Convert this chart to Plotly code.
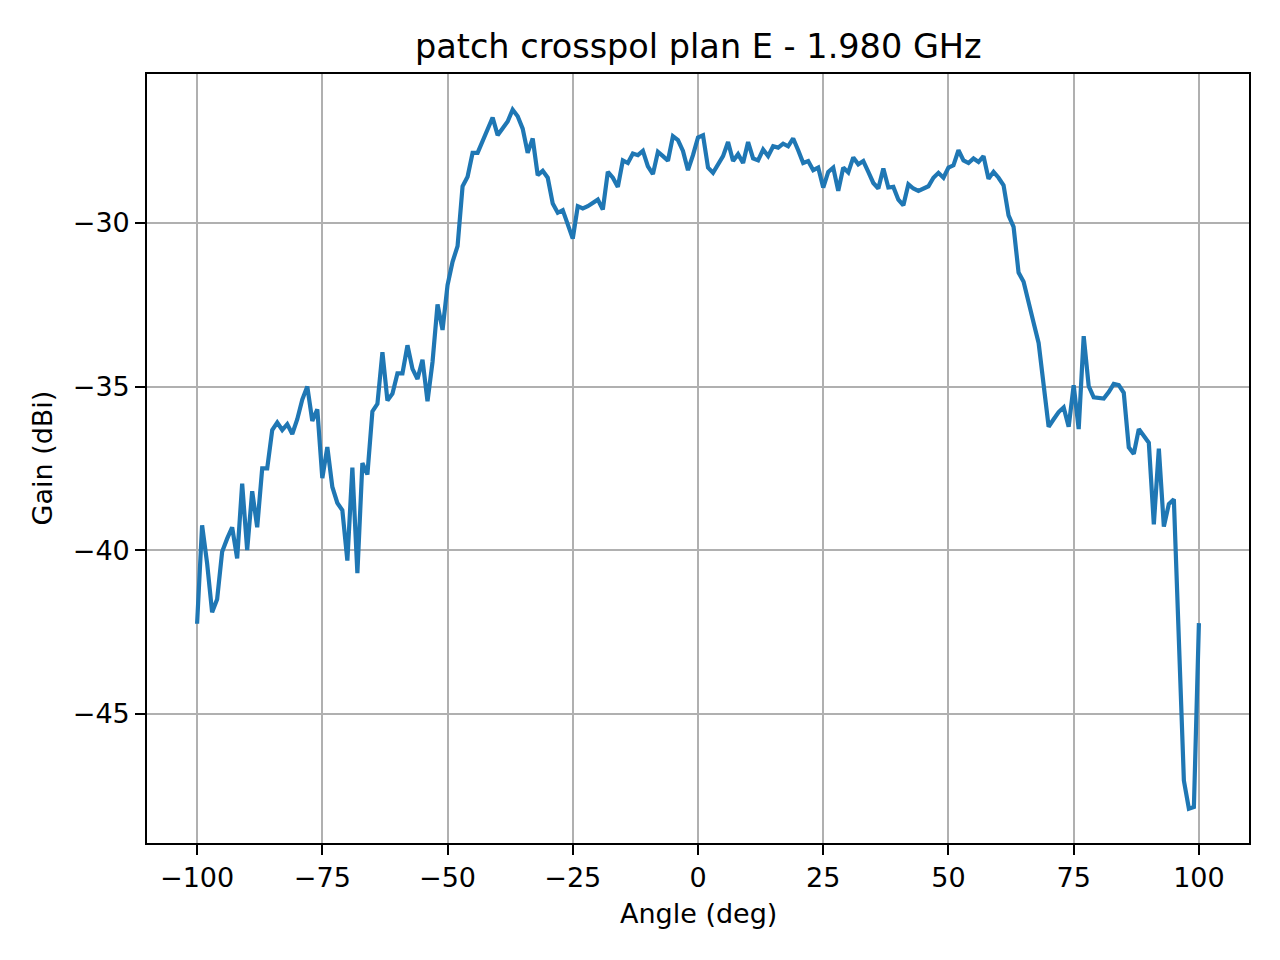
import plotly.graph_objects as go

angles = list(range(-100, 101))
gain = [
    -42.25, -39.24, -40.40, -41.90, -41.50, -40.05, -39.65, -39.30, -40.25, -37.97,
    -40.00, -38.20, -39.30, -37.50, -37.50, -36.33, -36.10, -36.33, -36.15, -36.45,
    -36.00, -35.40, -35.00, -36.05, -35.70, -37.80, -36.85, -38.07, -38.56, -38.78,
    -40.32, -37.48, -40.70, -37.34, -37.69, -35.76, -35.53, -33.95, -35.43, -35.22,
    -34.60, -34.60, -33.74, -34.46, -34.77, -34.18, -35.45, -34.25, -32.49, -33.27,
    -31.90, -31.19, -30.71, -28.88, -28.59, -27.86, -27.86, -27.49, -27.11, -26.78,
    -27.32, -27.13, -26.90, -26.54, -26.74, -27.12, -27.86, -27.42, -28.54, -28.41,
    -28.62, -29.41, -29.69, -29.61, -30.02, -30.48, -29.49, -29.56, -29.49, -29.39,
    -29.29, -29.59, -28.44, -28.62, -28.90, -28.09, -28.17, -27.88, -27.93, -27.80,
    -28.27, -28.51, -27.83, -27.96, -28.10, -27.35, -27.47, -27.80, -28.39, -27.93,
    -27.39, -27.32, -28.31, -28.47, -28.24, -27.96, -27.53, -28.11, -27.90, -28.17,
    -27.53, -28.03, -28.09, -27.76, -27.96, -27.66, -27.70, -27.58, -27.66, -27.42,
    -27.78, -28.17, -28.11, -28.39, -28.31, -28.92, -28.44, -28.31, -29.02, -28.31,
    -28.46, -28.00, -28.21, -28.11, -28.44, -28.78, -28.95, -28.34, -28.92, -28.90,
    -29.29, -29.46, -28.82, -28.95, -29.02, -28.95, -28.88, -28.62, -28.47, -28.62,
    -28.31, -28.24, -27.78, -28.09, -28.17, -28.03, -28.14, -27.96, -28.65, -28.44,
    -28.62, -28.85, -29.77, -30.12, -31.52, -31.80, -32.49, -33.05, -33.67, -34.93,
    -36.23, -36.00, -35.78, -35.64, -36.23, -34.96, -36.30, -33.46, -34.99, -35.33,
    -35.36, -35.37, -35.17, -34.92, -34.96, -35.19, -36.86, -37.06, -36.30, -36.51,
    -36.72, -39.21, -36.90, -39.28, -38.59, -38.45, -42.80, -47.04, -47.90, -47.85,
    -42.23,
]

x_ticks = [-100, -75, -50, -25, 0, 25, 50, 75, 100]
x_tick_labels = ["−100", "−75", "−50", "−25", "0", "25", "50", "75", "100"]
y_ticks = [-45, -40, -35, -30]
y_tick_labels = ["−45", "−40", "−35", "−30"]

title_text = "patch crosspol plan E - 1.980 GHz"
x_label = "Angle (deg)"
y_label = "Gain (dBi)"

FONT = "DejaVu Sans"

fig = go.Figure()
fig.add_trace(go.Scatter(
    x=angles, y=gain, mode="lines",
    line=dict(color="#1f77b4", width=4.2),
    showlegend=False,
))

axis_common = dict(
    showline=True, linecolor="black", linewidth=2.2, mirror=True,
    showgrid=True, gridcolor="#b0b0b0", gridwidth=2.2,
    zeroline=False, ticks="outside", ticklen=9.7, tickwidth=2.2, tickcolor="black",
    tickfont=dict(family=FONT, size=27, color="black"),
)

fig.update_xaxes(range=[-110, 110], tickvals=x_ticks, ticktext=x_tick_labels, **axis_common)
fig.update_yaxes(range=[-48.95, -25.45], tickvals=y_ticks, ticktext=y_tick_labels, **axis_common)

fig.update_layout(
    width=1280, height=960,
    margin=dict(l=147, r=31, t=74, b=117),
    paper_bgcolor="white", plot_bgcolor="white",
    font=dict(family=FONT, color="black"),
    annotations=[
        dict(text=title_text, xref="paper", yref="paper", x=0.5, y=1, yshift=28,
             xanchor="center", yanchor="middle", showarrow=False,
             font=dict(family=FONT, size=33.5, color="black")),
        dict(text=x_label, xref="paper", yref="paper", x=0.5, y=0, yshift=-70,
             xanchor="center", yanchor="middle", showarrow=False,
             font=dict(family=FONT, size=27, color="black")),
        dict(text=y_label, xref="paper", yref="paper", x=0, y=0.5, xshift=-105,
             xanchor="center", yanchor="middle", showarrow=False, textangle=-90,
             font=dict(family=FONT, size=27, color="black")),
    ],
)

fig.write_html("out.html", config={"displayModeBar": False},
               post_script="document.body.style.margin='0';")
